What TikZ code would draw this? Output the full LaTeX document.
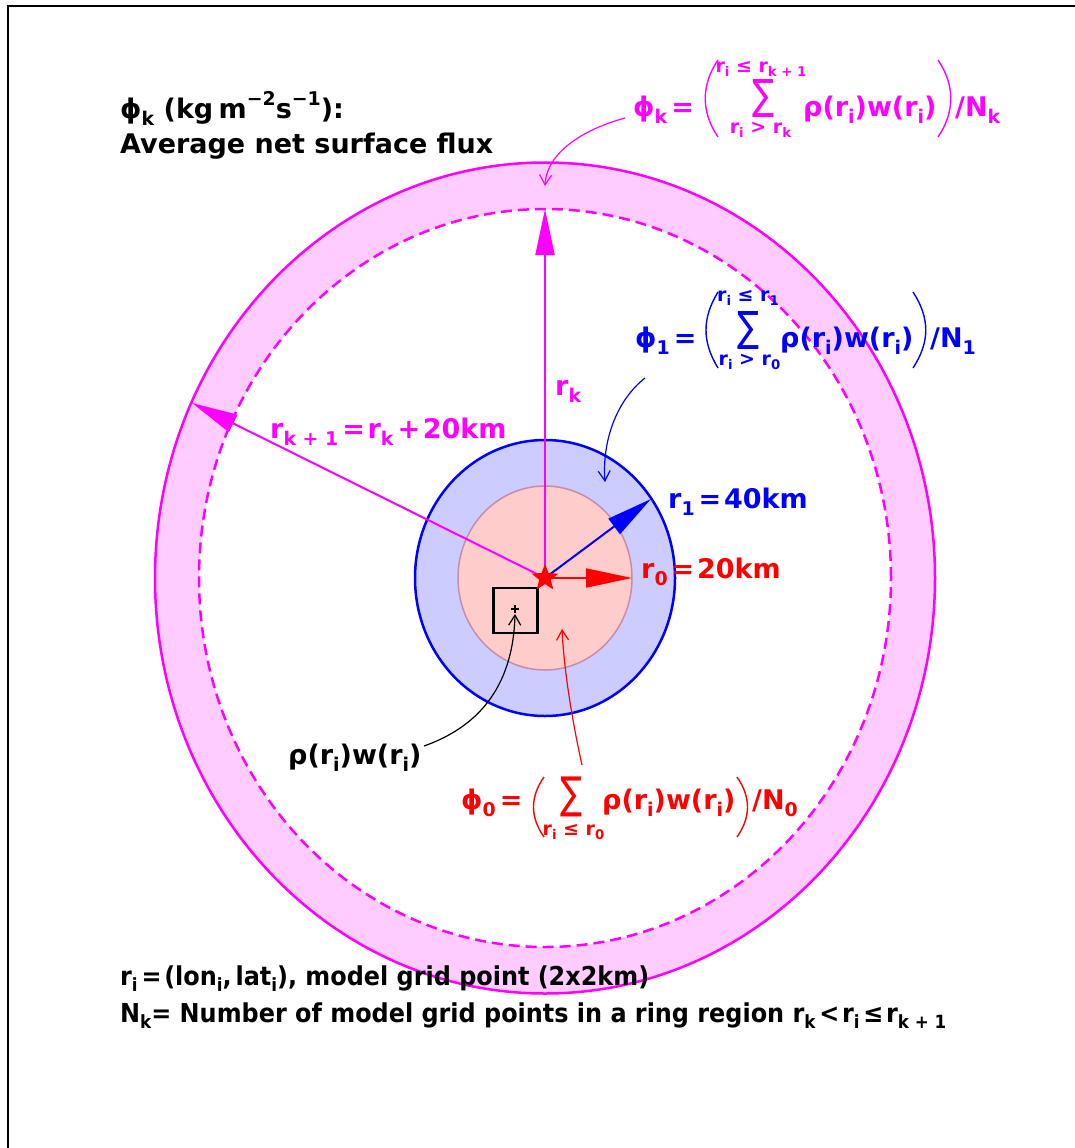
\documentclass[tikz,border=0pt]{standalone}
\usepackage{graphicx}
\usepackage{fontspec}
\setmainfont{DejaVu Sans}
\newfontfamily\condfont[FakeStretch=0.92]{DejaVu Sans}
\usetikzlibrary{arrows.meta,shapes.geometric}
\definecolor{mag}{RGB}{255,0,255}
\definecolor{ringfill}{RGB}{255,204,255}
\definecolor{bluefill}{RGB}{204,204,255}
\definecolor{redfill}{RGB}{255,204,204}
\definecolor{rededge}{RGB}{200,140,170}
\newcommand\sbs[1]{\raisebox{-0.26em}{\scalebox{0.7}{#1}}}
\newcommand\sps[1]{\raisebox{0.45em}{\scalebox{0.7}{#1}}}
\newcommand\eqs{\hspace{0.15em}=\hspace{0.1em}}
\newcommand\pls{\hspace{0.15em}+\hspace{0.1em}}
\tikzset{
  lbl/.style={inner sep=0pt, anchor=base west, font=\bfseries\fontsize{27}{32}\selectfont},
  lim/.style={inner sep=0pt, anchor=base, font=\bfseries\fontsize{19}{22}\selectfont},
  note/.style={inner sep=0pt, anchor=base west, font=\condfont\bfseries\fontsize{26}{30}\selectfont},
  sumsym/.style={inner sep=0pt, font=\fontsize{30}{34}\selectfont},
  bigarrow/.style={line width=2pt, -{Triangle[length=46pt,width=19pt]}},
  thinarrow/.style={line width=1.2pt, -{Straight Barb[length=10pt,width=12pt]}},
  paren/.style={line width=1.4pt},
}
\begin{document}
\begin{tikzpicture}[x=1pt,y=-1pt]
\useasboundingbox (0,0) rectangle (1075,1148);
\fill[white] (0,0) rectangle (1075,1148);
% frame
\draw[line width=2.2pt] (8,1160) -- (8,6) -- (1090,6);

\coordinate (c) at (545,578);
% outer ring
\fill[ringfill, even odd rule] (c) ellipse [x radius=390pt, y radius=415.5pt]
                               (c) ellipse [x radius=346pt, y radius=369pt];
\draw[mag, line width=2.5pt] (c) ellipse [x radius=390pt, y radius=415.5pt];
\draw[mag, line width=2.5pt, dash pattern=on 11pt off 6pt] (c) ellipse [x radius=346pt, y radius=369pt];
% r1 and r0 disks
\draw[blue, fill=bluefill, line width=2.5pt] (c) ellipse [x radius=130pt, y radius=138pt];
\draw[rededge, fill=redfill, line width=1.5pt] (c) ellipse [x radius=87pt, y radius=92pt];

% tips
\coordinate (tk) at (545,209);
\coordinate (tk1) at (192,403);
\coordinate (t1) at (651,499);
\coordinate (t0) at (632,578);
\draw[mag, bigarrow] (c) -- (tk);
\draw[mag, bigarrow] (c) -- (tk1);
\draw[blue, bigarrow] (c) -- (t1);
\draw[red, bigarrow] (c) -- (t0);

% grid cell
\node[draw, line width=2.5pt, minimum width=44pt, minimum height=45pt, inner sep=0pt] (cell) at (515.5,610.5) {};
\coordinate (gp) at (515,609);
\draw[line width=1.3pt] ([xshift=-4pt]gp) -- ([xshift=4pt]gp) ([yshift=-4pt]gp) -- ([yshift=4pt]gp);

% centre star
\node[star, star points=5, star point ratio=2.3, fill=red, minimum size=28pt, inner sep=0pt] (star) at (c) {};

% title
\node[lbl] (title1) at (120,118) {ϕ\sbs{k} (kg\hspace{0.2em}m\sps{−2}s\sps{−1}):};
\node[lbl] (title2) at (120,153) {Average net surface flux};

% phi_k formula
\node[lbl, mag] (fk) at (633,116) {ϕ\sbs{k}\eqs};
\draw[mag, paren] (718,60) .. controls (701,85) and (701,112) .. (718,137);
\node[sumsym, mag] (sk) at (763.5,98.5) {\resizebox*{22pt}{38pt}{∑}};
\node[lim, mag] (ukt) at (761,72) {r\sbs{i} ≤ r\sbs{k + 1}};
\node[lim, mag] (lkt) at (760.5,133) {r\sbs{i} > r\sbs{k}};
\node[lbl, mag] (pk) at (803,116) {ρ(r\sbs{i})w(r\sbs{i})};
\draw[mag, paren] (938,60) .. controls (955,85) and (955,112) .. (938,137);
\node[lbl, mag] (nk) at (955,116) {/N\sbs{k}};

% phi_1 formula
\node[lbl, blue] (f1) at (635,347) {ϕ\sbs{1}\eqs};
\draw[blue, paren] (718,292) .. controls (702,318) and (702,342) .. (718,368);
\node[sumsym, blue] (s1) at (748,330) {\resizebox*{22pt}{38pt}{∑}};
\node[lim, blue] (u1t) at (748,301) {r\sbs{i} ≤ r\sbs{1}};
\node[lim, blue] (l1t) at (749.5,365) {r\sbs{i} > r\sbs{0}};
\node[lbl, blue] (p1) at (780,347) {ρ(r\sbs{i})w(r\sbs{i})};
\draw[blue, paren] (913,292) .. controls (930,318) and (930,342) .. (913,368);
\node[lbl, blue] (n1) at (930,347) {/N\sbs{1}};

% phi_0 formula
\node[lbl, red] (f0) at (461,809) {ϕ\sbs{0}\eqs};
\draw[red, paren] (544,777) .. controls (530,797) and (530,817) .. (544,837);
\node[sumsym, red] (s0) at (571.5,796.5) {\resizebox*{22pt}{40pt}{∑}};
\node[lim, red] (l0t) at (573.5,835) {r\sbs{i} ≤ r\sbs{0}};
\node[lbl, red] (p0) at (602,809) {ρ(r\sbs{i})w(r\sbs{i})};
\draw[red, paren] (737,777) .. controls (751,797) and (751,817) .. (737,837);
\node[lbl, red] (n0) at (752,809) {/N\sbs{0}};

% radius labels
\node[lbl, mag] (lrk) at (555,395) {r\sbs{k}};
\node[lbl, mag] (lrk1) at (270,438) {r\sbs{k + 1}\eqs r\sbs{k}\pls 20km};
\node[lbl, blue] (lr1) at (668,508) {r\sbs{1}\eqs 40km};
\node[lbl, red] (lr0) at (641,578) {r\sbs{0}\eqs 20km};
\node[lbl] (lrw) at (288,764) {ρ(r\sbs{i})w(r\sbs{i})};

% curved pointers
\coordinate (ringtop) at (545,186);
\draw[mag, thinarrow] ([shift={(-8pt,-2pt)}]fk.base west) .. controls (588,128) and (547,150) .. (ringtop);
\coordinate (b1s) at (645,378);
\coordinate (b1e) at (605,482);
\draw[blue, thinarrow] (b1s) .. controls (617,400) and (602,440) .. (b1e);
\coordinate (r0s) at (582,765);
\coordinate (r0e) at (562,629);
\draw[red, thinarrow] (r0s) .. controls (572,720) and (564,670) .. (r0e);
\coordinate (bks) at (424,746);
\coordinate (bke) at (515,614);
\draw[black, thinarrow] (bks) .. controls (475,728) and (513,690) .. (bke);

% notes
\node[note] (n1line) at (120,985) {r\sbs{i}\eqs(lon\sbs{i},\hspace{0.15em}lat\sbs{i}), model grid point (2x2km)};
\node[note] (n2line) at (120,1022) {N\sbs{k}= Number of model grid points in a ring region r\sbs{k}\hspace{0.15em}<\hspace{0.1em}r\sbs{i}\hspace{0.15em}≤\hspace{0.1em}r\sbs{k + 1}};
\end{tikzpicture}
\end{document}
